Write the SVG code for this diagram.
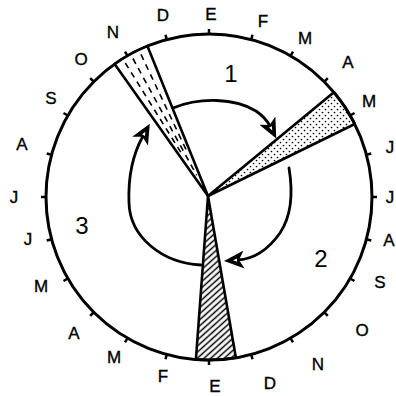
<svg xmlns="http://www.w3.org/2000/svg" width="396" height="396" viewBox="0 0 396 396">
<style>
.ring{fill:none;stroke:#000;stroke-width:3}
.tick{stroke:#000;stroke-width:2.5;fill:none}
.wedge{stroke:#000;stroke-width:2.6;stroke-linejoin:round}
.arrow{fill:none;stroke:#000;stroke-width:2.8;stroke-linecap:round}
.mon{font-family:"Liberation Sans",Arial,sans-serif;font-size:17px;text-anchor:middle;fill:#000;stroke:#000;stroke-width:0.35}
.num{font-family:"Liberation Sans",Arial,sans-serif;font-size:24px;text-anchor:middle;fill:#000}
.dash{stroke:#000;stroke-width:1.6;stroke-dasharray:6 5;fill:none}
</style>
<defs>
<pattern id="hatch" patternUnits="userSpaceOnUse" width="10" height="4.5" patternTransform="rotate(-42)">
<line x1="0" y1="2.25" x2="10" y2="2.25" stroke="#000" stroke-width="1.5"/>
</pattern>
<pattern id="dots" patternUnits="userSpaceOnUse" width="6" height="6">
<circle cx="1.5" cy="1.5" r="0.85" fill="#000"/>
<circle cx="4.5" cy="4.5" r="0.85" fill="#000"/>
</pattern>
<marker id="ah" markerUnits="userSpaceOnUse" viewBox="0 0 20 18" markerWidth="20" markerHeight="18" refX="6" refY="9" orient="auto">
<path d="M0,0 L20,9 L0,18 L5,9 Z" fill="#000"/>
<path d="M7,7.4 L11,9 L7,10.6 Z" fill="#fff"/>
</marker>
</defs>
<g id="ring">
<circle class="ring" cx="209" cy="197" r="163"/>
<g class="tick" transform="translate(209 197)">
<line x1="0" y1="-163" x2="0" y2="-168"/>
<line x1="0" y1="-163" x2="0" y2="-168" transform="rotate(15)"/>
<line x1="0" y1="-163" x2="0" y2="-168" transform="rotate(30)"/>
<line x1="0" y1="-163" x2="0" y2="-168" transform="rotate(45)"/>
<line x1="0" y1="-163" x2="0" y2="-168" transform="rotate(60)"/>
<line x1="0" y1="-163" x2="0" y2="-168" transform="rotate(75)"/>
<line x1="0" y1="-163" x2="0" y2="-168" transform="rotate(90)"/>
<line x1="0" y1="-163" x2="0" y2="-168" transform="rotate(105)"/>
<line x1="0" y1="-163" x2="0" y2="-168" transform="rotate(120)"/>
<line x1="0" y1="-163" x2="0" y2="-168" transform="rotate(135)"/>
<line x1="0" y1="-163" x2="0" y2="-168" transform="rotate(150)"/>
<line x1="0" y1="-163" x2="0" y2="-168" transform="rotate(165)"/>
<line x1="0" y1="-163" x2="0" y2="-168" transform="rotate(180)"/>
<line x1="0" y1="-163" x2="0" y2="-168" transform="rotate(195)"/>
<line x1="0" y1="-163" x2="0" y2="-168" transform="rotate(210)"/>
<line x1="0" y1="-163" x2="0" y2="-168" transform="rotate(225)"/>
<line x1="0" y1="-163" x2="0" y2="-168" transform="rotate(240)"/>
<line x1="0" y1="-163" x2="0" y2="-168" transform="rotate(255)"/>
<line x1="0" y1="-163" x2="0" y2="-168" transform="rotate(270)"/>
<line x1="0" y1="-163" x2="0" y2="-168" transform="rotate(285)"/>
<line x1="0" y1="-163" x2="0" y2="-168" transform="rotate(300)"/>
<line x1="0" y1="-163" x2="0" y2="-168" transform="rotate(315)"/>
<line x1="0" y1="-163" x2="0" y2="-168" transform="rotate(330)"/>
<line x1="0" y1="-163" x2="0" y2="-168" transform="rotate(345)"/>
</g>
</g>
<g id="months">
<text class="mon" x="211" y="20">E</text>
<text class="mon" x="263" y="27">F</text>
<text class="mon" x="305" y="44">M</text>
<text class="mon" x="348" y="68">A</text>
<text class="mon" x="369" y="107">M</text>
<text class="mon" x="390" y="153">J</text>
<text class="mon" x="390" y="203">J</text>
<text class="mon" x="389" y="246">A</text>
<text class="mon" x="380" y="288">S</text>
<text class="mon" x="362" y="336">O</text>
<text class="mon" x="318" y="370">N</text>
<text class="mon" x="270" y="389">D</text>
<text class="mon" x="215" y="392">E</text>
<text class="mon" x="163" y="382">F</text>
<text class="mon" x="114" y="363">M</text>
<text class="mon" x="74" y="339">A</text>
<text class="mon" x="41" y="292">M</text>
<text class="mon" x="28" y="245">J</text>
<text class="mon" x="14" y="203">J</text>
<text class="mon" x="22" y="150">A</text>
<text class="mon" x="51" y="104">S</text>
<text class="mon" x="81" y="65">O</text>
<text class="mon" x="113" y="38">N</text>
<text class="mon" x="163" y="21">D</text>
</g>
<g id="wedge-dashed">
<path class="wedge" fill="#fff" d="M208,196 L114.6,64.1 A163,163 0 0 1 147.4,46.1 Z"/>
<line class="dash" x1="125.3" y1="63" x2="183.2" y2="156.1"/>
<line class="dash" x1="132.9" y1="58.5" x2="196.7" y2="175.4"/>
<line class="dash" x1="141" y1="54.4" x2="187.9" y2="153.5"/>
</g>
<g id="wedge-dotted">
<path class="wedge" fill="url(#dots)" d="M208,196 L333.9,92.2 A163,163 0 0 1 354.8,124 Z"/>
</g>
<g id="wedge-hatched">
<path class="wedge" fill="url(#hatch)" d="M208,196 L235.9,357.7 A163,163 0 0 1 195.9,359.5 Z"/>
</g>
<g id="labels">
<text class="num" x="231" y="82">1</text>
<text class="num" x="321" y="267">2</text>
<text class="num" x="82" y="234">3</text>
</g>
<g id="connectors">
<path class="arrow" marker-end="url(#ah)" d="M173,108 C200,97 235,98 256,111 C263,116 267,120 270,126"/>
<path class="arrow" marker-end="url(#ah)" d="M289,168 C293,192 292,215 280,233 C268,250 253,259 238,260"/>
<path class="arrow" marker-end="url(#ah)" d="M201,265 C162,263 130,237 129,203 C128,178 133,154 143,136"/>
</g>
</svg>
